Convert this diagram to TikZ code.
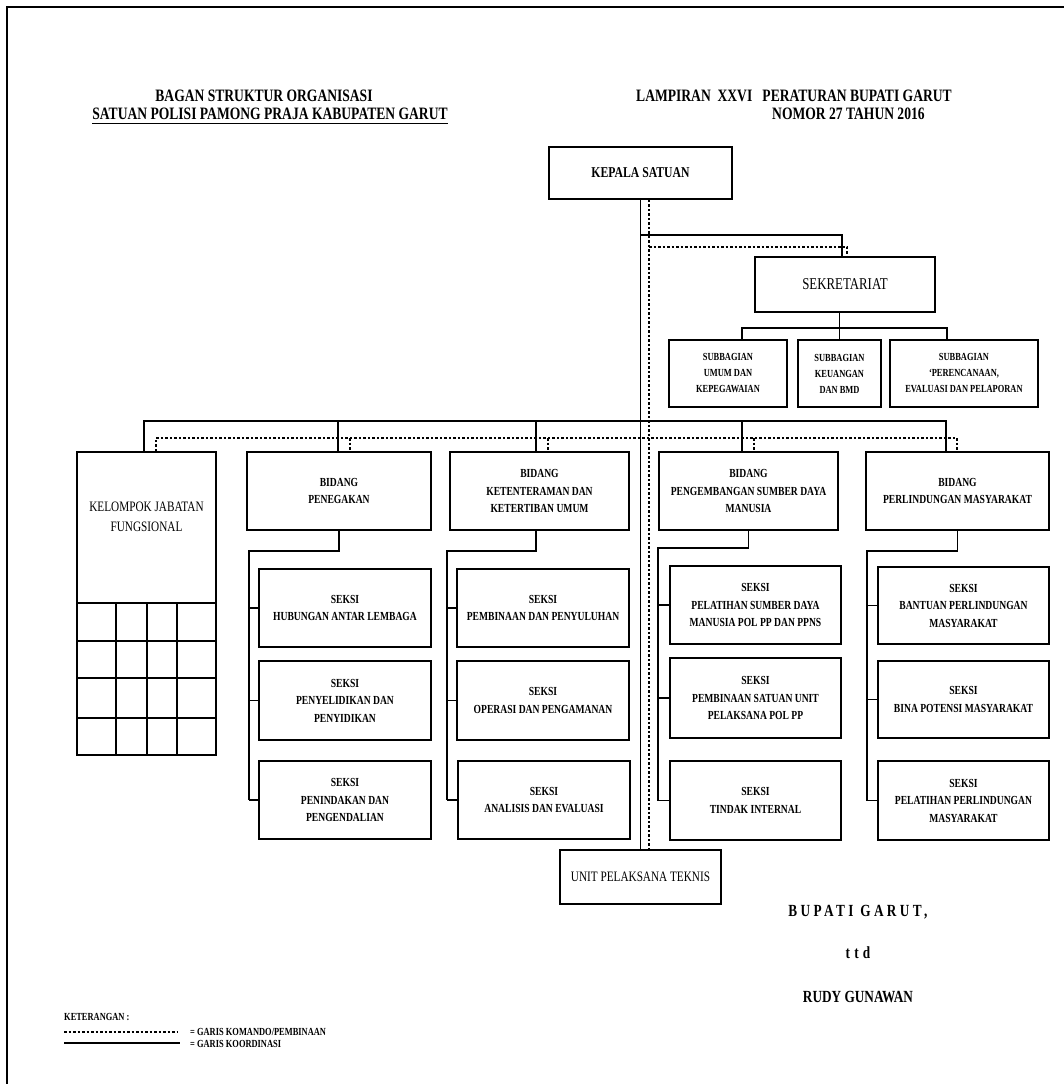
\documentclass[tikz,border=0pt]{standalone}
\usepackage{fontspec}
\setmainfont{Liberation Serif}
\newfontfamily\cf[FakeStretch=0.78]{Liberation Serif}
\begin{document}
\begin{tikzpicture}[x=1pt,y=-1pt,
  ln/.style={line width=1.5pt},
  dl/.style={line width=1.4pt, dash pattern=on 2.5pt off 2pt},
  bx/.style={draw, line width=1.6pt, inner sep=2pt, align=center,
    font=\cf\bfseries\fontsize{12.3}{17.5}\selectfont},
  sbx/.style={bx, font=\cf\bfseries\fontsize{10.8}{16}\selectfont},
  rbx/.style={bx, font=\cf\fontsize{14.4}{20}\selectfont},
  hdr/.style={inner sep=0pt, font=\cf\bfseries\fontsize{17.4}{18}\selectfont},
  lgd/.style={inner sep=0pt, anchor=west, font=\cf\bfseries\fontsize{10.8}{12}\selectfont},
  sig/.style={inner sep=0pt, font=\cf\bfseries\fontsize{17}{18}\selectfont}]
\useasboundingbox (0,0) rectangle (1064,1084);
% frame
\draw[line width=2pt] (7,1084) -- (7,7) -- (1064,7);

% headers
\node[hdr] (h1) at (264,96) {BAGAN STRUKTUR ORGANISASI};
\node[hdr] (h2) at (270,114) {SATUAN POLISI PAMONG PRAJA KABUPATEN GARUT};
\draw[line width=1.6pt] ([yshift=-4pt]h2.base west) -- ([yshift=-4pt]h2.base east);
\node[hdr, anchor=west] (h3) at (636,96) {LAMPIRAN\ \ XXVI\ \ \ PERATURAN BUPATI GARUT};
\node[hdr, anchor=west] (h4) at (772,114) {NOMOR 27 TAHUN 2016};

% top
\node[bx, minimum width=183pt, minimum height=52pt, font=\cf\bfseries\fontsize{15}{18}\selectfont] (kepala) at (640.5,173) {KEPALA SATUAN};
\node[bx, minimum width=180pt, minimum height=55pt, font=\cf\fontsize{16.5}{20}\selectfont] (sekr) at (845,284.5) {SEKRETARIAT};
\node[sbx, minimum width=118pt, minimum height=67pt] (sub1) at (728,373.5) {SUBBAGIAN\\UMUM DAN\\KEPEGAWAIAN};
\node[sbx, minimum width=83pt, minimum height=67pt] (sub2) at (839.5,373.5) {SUBBAGIAN\\KEUANGAN\\DAN BMD};
\node[sbx, minimum width=148pt, minimum height=67pt] (sub3) at (964,373.5) {SUBBAGIAN\\‘PERENCANAAN,\\EVALUASI DAN PELAPORAN};
\node[rbx, minimum width=161pt, minimum height=54pt] (upt) at (640.5,877) {UNIT PELAKSANA TEKNIS};

% bidang
\node[draw, line width=1.6pt, minimum width=139pt, minimum height=303pt] (kel) at (146.5,603.5) {};
\node[inner sep=0pt, align=center, font=\cf\fontsize{14.4}{20}\selectfont] (keltxt) at (146.5,517) {KELOMPOK JABATAN\\FUNGSIONAL};
\foreach \yy in {603,641,678,718} \draw[ln] (kel.west |- 0,\yy) -- (kel.east |- 0,\yy);
\foreach \xx in {116,147,177} \draw[ln] (\xx,603) -- (kel.south -| \xx,0);

\node[bx, minimum width=184pt, minimum height=78pt] (b1) at (339,491) {BIDANG\\PENEGAKAN};
\node[bx, minimum width=179pt, minimum height=78pt] (b2) at (539.5,491) {BIDANG\\KETENTERAMAN DAN\\KETERTIBAN UMUM};
\node[bx, minimum width=179pt, minimum height=78pt] (b3) at (748.5,491) {BIDANG\\PENGEMBANGAN SUMBER DAYA\\MANUSIA};
\node[bx, minimum width=183pt, minimum height=78pt] (b4) at (957.5,491) {BIDANG\\PERLINDUNGAN MASYARAKAT};

% seksi
\node[bx, minimum width=172pt, minimum height=78pt] (s11) at (345,608) {SEKSI\\HUBUNGAN ANTAR LEMBAGA};
\node[bx, minimum width=172pt, minimum height=79pt] (s12) at (345,700.5) {SEKSI\\PENYELIDIKAN DAN\\PENYIDIKAN};
\node[bx, minimum width=172pt, minimum height=78pt] (s13) at (345,800) {SEKSI\\PENINDAKAN DAN\\PENGENDALIAN};
\node[bx, minimum width=172pt, minimum height=78pt] (s21) at (543,608) {SEKSI\\PEMBINAAN DAN PENYULUHAN};
\node[bx, minimum width=172pt, minimum height=79pt] (s22) at (543,700.5) {SEKSI\\OPERASI DAN PENGAMANAN};
\node[bx, minimum width=172pt, minimum height=78pt] (s23) at (544,800) {SEKSI\\ANALISIS DAN EVALUASI};
\node[bx, minimum width=171pt, minimum height=78pt] (s31) at (755.5,605) {SEKSI\\PELATIHAN SUMBER DAYA\\MANUSIA POL PP DAN PPNS};
\node[bx, minimum width=171pt, minimum height=80pt] (s32) at (755.5,698) {SEKSI\\PEMBINAAN SATUAN UNIT\\PELAKSANA POL PP};
\node[bx, minimum width=171pt, minimum height=79pt] (s33) at (755.5,800.5) {SEKSI\\TINDAK INTERNAL};
\node[bx, minimum width=171pt, minimum height=77pt] (s41) at (963.5,605.5) {SEKSI\\BANTUAN PERLINDUNGAN\\MASYARAKAT};
\node[bx, minimum width=171pt, minimum height=77pt] (s42) at (963.5,699.5) {SEKSI\\BINA POTENSI MASYARAKAT};
\node[bx, minimum width=171pt, minimum height=79pt] (s43) at (963.5,800.5) {SEKSI\\PELATIHAN PERLINDUNGAN\\MASYARAKAT};

% main spine
\draw[ln] (kepala.south) -- (upt.north);
\draw[dl] ([xshift=8.5pt]kepala.south) -- ([xshift=8.5pt]upt.north);

% sekretariat links
\path (kepala.south) ++(0,35) coordinate (sj);
\draw[ln] (sj) -| ([xshift=-3pt]sekr.north);
\path ([xshift=8.5pt]kepala.south) ++(0,47) coordinate (dj);
\draw[dl] (dj) -| ([xshift=2pt]sekr.north);

% subbagian bus
\coordinate (sbL) at (742,328);
\coordinate (sbR) at (947,328);
\draw[ln] (sub1.north -| sbL) -- (sbL) -- (sbR) -- (sub3.north -| sbR);
\draw[ln] (sekr.south -| sub2.north) -- (sub2.north);

% bidang buses
\coordinate (bs0) at (144,421); \coordinate (bs1) at (338,421);
\coordinate (bs2) at (536,421); \coordinate (bs3) at (742,421);
\coordinate (bs4) at (946,421);
\draw[ln] (kel.north -| bs0) -- (bs0) -- (bs4) -- (b4.north -| bs4);
\draw[ln] (bs1) -- (b1.north -| bs1);
\draw[ln] (bs2) -- (b2.north -| bs2);
\draw[ln] (bs3) -- (b3.north -| bs3);
\coordinate (bd0) at (156,438); \coordinate (bd1) at (350,438);
\coordinate (bd2) at (548,438); \coordinate (bd3) at (754,438);
\coordinate (bd4) at (957,438);
\draw[dl] (kel.north -| bd0) -- (bd0) -- (bd4) -- (b4.north -| bd4);
\draw[dl] (bd1) -- (b1.north -| bd1);
\draw[dl] (bd2) -- (b2.north -| bd2);
\draw[dl] (bd3) -- (b3.north -| bd3);

% seksi trunks
\coordinate (t1) at (249,551);
\draw[ln] (b1.south) -- (b1.south |- t1) -- (t1) -- (t1 |- s13.west);
\foreach \s in {s11,s12,s13} \draw[ln] (t1 |- \s.west) -- (\s.west);
\coordinate (t2) at (447,551);
\draw[ln] (b2.south -| bs2) -- (bs2 |- t2) -- (t2) -- (t2 |- s23.west);
\foreach \s in {s21,s22,s23} \draw[ln] (t2 |- \s.west) -- (\s.west);
\coordinate (t3) at (658,548);
\draw[ln] (b3.south) -- (b3.south |- t3) -- (t3) -- (t3 |- s33.west);
\foreach \s in {s31,s32,s33} \draw[ln] (t3 |- \s.west) -- (\s.west);
\coordinate (t4) at (867,551);
\draw[ln] (b4.south) -- (b4.south |- t4) -- (t4) -- (t4 |- s43.west);
\foreach \s in {s41,s42,s43} \draw[ln] (t4 |- \s.west) -- (\s.west);

% signature
\node[sig] (sg1) at (858,912) {\addfontfeatures{LetterSpace=20}BUPATI GARUT,};
\node[sig] (sg2) at (858,953) {\addfontfeatures{LetterSpace=25}ttd};
\node[sig] (sg3) at (858,997) {RUDY GUNAWAN};

% legend
\node[lgd] (ket) at (64,1017) {KETERANGAN :};
\coordinate (lg1a) at (64,1032); \coordinate (lg1b) at (177,1032);
\draw[dl] (lg1a) -- (lg1b);
\coordinate (lg2a) at (64,1043); \coordinate (lg2b) at (180,1043);
\draw[line width=2pt] (lg2a) -- (lg2b);
\node[lgd] (lgt1) at (190,1032) {= GARIS KOMANDO/PEMBINAAN};
\node[lgd] (lgt2) at (190,1044) {= GARIS KOORDINASI};
\end{tikzpicture}
\end{document}
